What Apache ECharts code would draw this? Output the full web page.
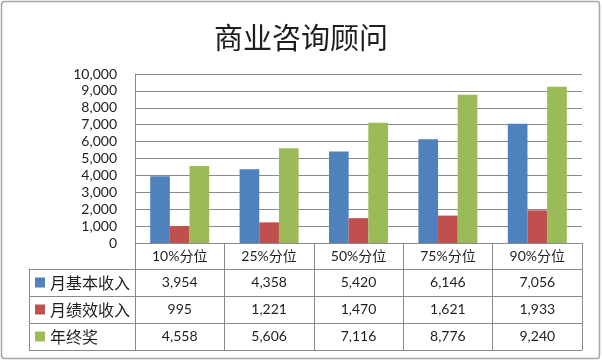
<!DOCTYPE html>
<html>
<head>
<meta charset="utf-8">
<script src="https://cdn.jsdelivr.net/npm/echarts@6/dist/echarts.min.js"></script>
<style>
html,body{margin:0;padding:0;background:#fff;}
#chart{width:602px;height:362px;}
</style>
</head>
<body>
<div id="chart"></div>
<script>
var title = '商业咨询顾问';
var categories = ['10%分位', '25%分位', '50%分位', '75%分位', '90%分位'];
var seriesNames = ['月基本收入', '月绩效收入', '年终奖'];
var baseIncome = [3954, 4358, 5420, 6146, 7056];
var perfIncome = [995, 1221, 1470, 1621, 1933];
var yearBonus = [4558, 5606, 7116, 8776, 9240];
var colors = ['#4F81BD', '#C0504D', '#9BBB59'];

var FONT = "Lato, 'Noto Sans CJK SC', sans-serif";
var TXT = '#1e1e1e';
var LINE = '#8a8a8a';
var fmt = function (v) { return Number(v).toLocaleString('en-US'); };

var gridLeft = 135, gridRight = 20, gridTop = 74, gridBottom = 119;
var rowH = 27, headerH = 26;
var tableLeft = 29;
var axisY = 362 - gridBottom;

var allSeries = [baseIncome, perfIncome, yearBonus];

var xAxes = [{
  type: 'category',
  data: categories,
  position: 'bottom',
  axisLine: { show: true, lineStyle: { color: LINE, width: 1 } },
  axisTick: { show: true, alignWithLabel: false, interval: 0, length: headerH + rowH * 3, lineStyle: { color: LINE, width: 1 } },
  axisLabel: { interval: 0, margin: 6, fontSize: 14, color: TXT, fontFamily: FONT }
}];
allSeries.forEach(function (arr, i) {
  xAxes.push({
    type: 'category',
    data: arr.map(fmt),
    position: 'bottom',
    offset: headerH + rowH * i,
    axisLine: { show: true, lineStyle: { color: LINE, width: 1 } },
    axisTick: { show: false },
    axisLabel: { interval: 0, margin: 6, fontSize: 14, color: TXT, fontFamily: FONT }
  });
});
xAxes.push({
  type: 'category',
  data: categories,
  position: 'bottom',
  offset: headerH + rowH * 3,
  axisLine: { show: true, lineStyle: { color: LINE, width: 1 } },
  axisTick: { show: false },
  axisLabel: { show: false }
});

var graphics = [{
  type: 'rect',
  shape: { x: 1.5, y: 1.5, width: 598, height: 357, r: 3 },
  style: { fill: 'none', stroke: '#a6a6a6', lineWidth: 1.5 },
  silent: true
}];
for (var r = 0; r <= 3; r++) {
  var yy = axisY + headerH + rowH * r + 0.5;
  graphics.push({ type: 'line', shape: { x1: tableLeft, y1: yy, x2: gridLeft, y2: yy }, style: { stroke: LINE, lineWidth: 1 }, silent: true });
}
graphics.push({ type: 'line', shape: { x1: tableLeft + 0.5, y1: axisY + headerH + 0.5, x2: tableLeft + 0.5, y2: axisY + headerH + rowH * 3 + 0.5 }, style: { stroke: LINE, lineWidth: 1 }, silent: true });

var chart = echarts.init(document.getElementById('chart'), null, { renderer: 'canvas' });
chart.setOption({
  animation: false,
  backgroundColor: '#fff',
  title: {
    text: title,
    left: 'center',
    top: 18,
    textStyle: { fontSize: 29, fontWeight: 'normal', color: TXT, fontFamily: "'Noto Sans CJK SC', sans-serif" }
  },
  legend: {
    orient: 'vertical',
    left: 35,
    top: axisY + headerH + 5,
    padding: 0,
    itemWidth: 10,
    itemHeight: 10,
    itemGap: 10,
    icon: 'rect',
    data: seriesNames,
    textStyle: { fontSize: 16, color: TXT, fontFamily: "'Noto Sans CJK SC', sans-serif", lineHeight: 17 }
  },
  grid: { left: gridLeft, right: gridRight, top: gridTop, bottom: gridBottom, containLabel: false },
  xAxis: xAxes,
  yAxis: {
    type: 'value',
    min: 0, max: 10000, interval: 1000,
    axisLine: { show: true, lineStyle: { color: LINE, width: 1 } },
    axisTick: { show: false },
    splitLine: { show: true, lineStyle: { color: LINE, width: 1 } },
    axisLabel: { formatter: fmt, margin: 18, fontSize: 14, color: TXT, fontFamily: FONT }
  },
  graphic: graphics,
  series: seriesNames.map(function (name, i) {
    return {
      name: name,
      type: 'bar',
      xAxisIndex: 0,
      data: allSeries[i],
      itemStyle: { color: colors[i] },
      barGap: '0%',
      barCategoryGap: '34%'
    };
  })
});
</script>
</body>
</html>
